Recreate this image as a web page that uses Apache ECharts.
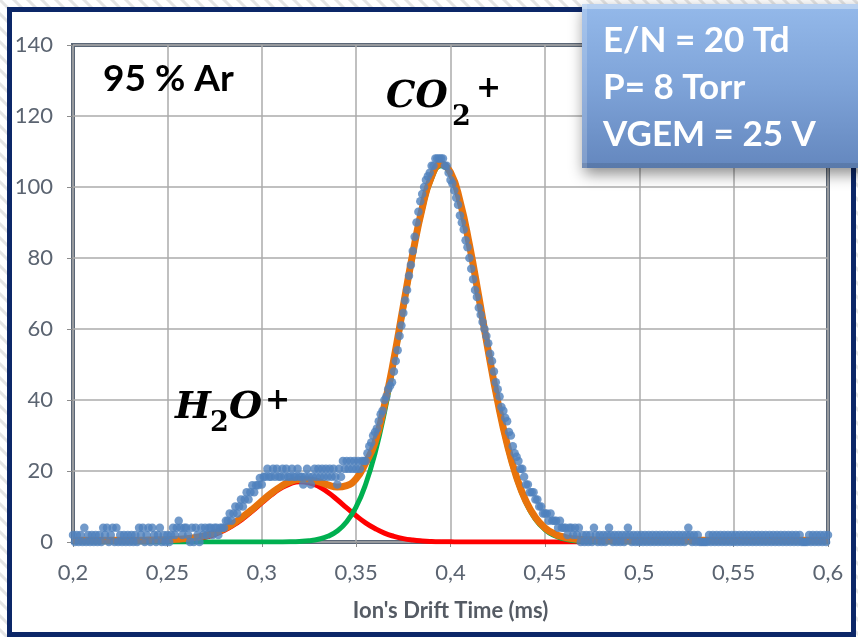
<!DOCTYPE html>
<html>
<head>
<meta charset="utf-8">
<script src="https://cdn.jsdelivr.net/npm/echarts@6/dist/echarts.min.js"></script>
<style>
  html, body { margin: 0; padding: 0; background: #ffffff; }
  #chart { width: 858px; height: 637px; }
</style>
</head>
<body>
<div id="chart"></div>
<script>
// Ion drift-time spectrum, 95 % Ar: measured signal and Gaussian fits.

// Measured signal, one sample every 0.001 ms from 0.200 ms
const timeStart = 0.200;
const timeStep = 0.001;
const signal = [
  2,0,2,0,2,0,4,0,2,0,
  2,0,2,0,2,0,4,2,4,0,
  2,4,0,4,0,2,0,2,0,2,
  0,2,0,2,0,4,2,4,0,2,
  4,0,4,2,0,2,4,0,2,0,
  2,0,2,4,2,4,6,4,2,4,
  4,2,0,4,0,4,2,0,4,2,
  4,2,4,4,2,4,4,2,4,4,
  4,6,6,8,6,8,10,8,10,12,
  10,12,14,12,14,16,14,16,16,18,
  16.2,18.4,18.4,20.6,18.4,18.4,20.6,18.4,20.6,18.4,
  18.4,20.6,18.4,20.6,18.4,18.4,20.6,18.4,18.4,20.6,
  18.4,18.4,16.2,18.4,20.6,18.4,16.2,18.4,20.6,18.4,
  20.6,18.4,20.6,18.4,20.6,18.4,20.6,18.4,20.6,18.4,
  16.2,20.6,18.4,22.8,20.6,22.8,20.6,22.8,20.6,22.8,
  20.6,22.8,20.6,22.8,22.8,22.8,25,27,28,30,
  31,32,34,36,37,40,41,43,44,45,
  48,51,54,58,61,64.5,68,71,75,78,
  82,86,90,93,96,98,100,102,103,104,
  106,106,108,108,108,108,108,106,106,104,
  102,101,99,97,95,92,90,88,85,83,
  80,77,74,71,69,66,64,62,60,58,
  56,53,51,48,45,43,41,38,37,35,
  34,31,30,27,25,24,22.8,20.6,20.6,18.4,
  16.2,16.2,14,14,14,12,12,10,10,8,
  8,8,6,8,6,6,6,4,6,4,
  4,4,2,4,4,2,4,2,4,0,
  2,0,2,0,2,0,4,2,0,2,
  0,2,0,2,4,2,0,2,0,2,
  0,2,0,2,4,2,0,2,0,2,
  0,2,0,2,0,2,0,2,0,2,
  0,2,0,2,0,2,0,2,0,2,
  0,2,0,2,0,2,4,2,0,2,
  0,2,0,0,0,0,0,2,0,2,
  0,2,0,2,0,2,0,2,0,2,
  0,2,0,2,0,2,0,2,0,2,
  0,2,0,2,0,2,0,2,0,2,
  0,2,0,2,0,2,0,2,0,2,
  0,2,0,2,0,2,0,0,0,0,
  2,0,2,0,2,0,2,0,2,0,
  2
];

// Fitted curves, one point every 0.005 ms from 0.200 ms
const fitStart = 0.200;
const fitStep = 0.005;
const fitH2O = [
  0,0,0,0,0,0,0,0,0.03,0.06,
  0.12,0.23,0.43,0.77,1.3,2.1,3.23,4.73,6.58,8.72,
  11.0,13.2,15.1,16.4,17.0,16.7,15.7,14.0,11.9,9.6,
  7.4,5.4,3.8,2.5,1.6,0.95,0.55,0.3,0.15,0.07,
  0.04,0,0,0,0,0,0,0,0,0,
  0,0,0,0,0,0,0,0,0,0,
  0,0,0,0,0,0,0,0,0,0,
  0,0,0,0,0,0,0,0,0,0,
  0
];
const fitCO2 = [
  0,0,0,0,0,0,0,0,0,0,
  0,0,0,0,0,0,0,0,0,0,
  0,0.01,0.02,0.06,0.16,0.36,0.78,1.6,3.1,5.7,
  9.9,16.2,25.0,36.5,50.4,65.5,80.5,93.4,102.4,106,
  103.6,95.6,83.3,68.6,53.3,39.1,27.1,17.8,11.0,6.4,
  3.5,1.8,0.9,0.42,0.18,0.07,0,0,0,0,
  0,0,0,0,0,0,0,0,0,0,
  0,0,0,0,0,0,0,0,0,0,
  0
];
const fitTotal = [
  0.5,0.5,0.5,0.5,0.5,0.5,0.5,0.5,0.55,0.6,
  0.65,0.75,0.95,1.3,1.8,2.6,3.7,5.2,7.1,9.2,
  11.5,13.7,15.6,17.0,17.6,17.5,17.0,16.1,15.5,15.9,
  17.8,22.2,28.0,38.5,51.5,66.5,81.2,94,103,106.5,
  104.1,96.1,83.8,69.1,53.8,39.6,27.6,18.3,11.5,6.9,
  4.0,2.3,1.4,0.9,0.7,0.6,0.5,0.5,0.5,0.5,
  0.5,0.5,0.5,0.5,0.5,0.5,0.5,0.5,0.5,0.5,
  0.5,0.5,0.5,0.5,0.5,0.5,0.5,0.5,0.5,0.5,
  0.5
];

// Axis settings
const xMin = 0.2, xMax = 0.6, xInterval = 0.05;
const yMin = 0, yMax = 140, yInterval = 20;
const xTitle = "Ion's Drift Time (ms)";
const conditions = ['E/N = 20 Td', 'P= 8 Torr', 'VGEM = 25 V'];
const gasLabel = '95 % Ar';

function pairs(start, step, values) {
  return values.map((v, i) => [+(start + i * step).toFixed(4), v]);
}

// diagonal hatch used around the outer frame
const hatch = document.createElement('canvas');
hatch.width = 14; hatch.height = 14;
(function () {
  const c = hatch.getContext('2d');
  c.fillStyle = '#ffffff';
  c.fillRect(0, 0, 14, 14);
  c.strokeStyle = '#e4e4e4';
  c.lineWidth = 3;
  c.beginPath();
  c.moveTo(-2, -2); c.lineTo(16, 16);
  c.moveTo(-16, -2); c.lineTo(2, 16);
  c.moveTo(12, -2); c.lineTo(30, 16);
  c.stroke();
})();

const tickFont = 'Lato, "Open Sans", sans-serif';
const tickColor = '#5b6471';

const chart = echarts.init(document.getElementById('chart'), null, { renderer: 'canvas' });

chart.setOption({
  animation: false,
  backgroundColor: '#ffffff',
  grid: {
    left: 73, right: 30, top: 45, bottom: 95,
    show: true,
    z: 1,
    borderColor: '#5b6777',
    borderWidth: 4,
    backgroundColor: 'transparent'
  },
  xAxis: {
    type: 'value',
    z: 1,
    min: xMin, max: xMax, interval: xInterval,
    name: xTitle,
    nameLocation: 'middle',
    nameGap: 58,
    nameTextStyle: { fontFamily: tickFont, fontWeight: 'bold', fontSize: 22, color: '#555b64' },
    axisLine: { show: false },
    axisTick: { show: true, length: 5, lineStyle: { color: '#8c8c8c' } },
    axisLabel: {
      margin: 20,
      fontFamily: tickFont, fontSize: 22, color: tickColor,
      formatter: v => String(+v.toFixed(2)).replace('.', ',')
    },
    splitLine: { show: true, lineStyle: { color: '#ababab', width: 1.5 } }
  },
  yAxis: {
    type: 'value',
    z: 1,
    min: yMin, max: yMax, interval: yInterval,
    axisLine: { show: false },
    axisTick: { show: true, length: 6, lineStyle: { color: '#8c8c8c' } },
    axisLabel: { margin: 20, fontFamily: tickFont, fontSize: 22, color: tickColor },
    splitLine: { show: true, lineStyle: { color: '#ababab', width: 1.5 } }
  },
  series: [
    {
      name: 'H2O+ fit', type: 'line', z: 3, smooth: true, symbol: 'none',
      lineStyle: { color: '#ff0000', width: 5 },
      data: pairs(fitStart, fitStep, fitH2O)
    },
    {
      name: 'CO2+ fit', type: 'line', z: 4, smooth: true, symbol: 'none',
      lineStyle: { color: '#00b050', width: 5 },
      data: pairs(fitStart, fitStep, fitCO2)
    },
    {
      name: 'Total fit', type: 'line', z: 5, smooth: true, symbol: 'none',
      lineStyle: { color: '#e8730c', width: 7 },
      data: pairs(fitStart, fitStep, fitTotal)
    },
    {
      name: 'Signal', type: 'scatter', z: 6,
      symbol: 'circle', symbolSize: 8.5,
      itemStyle: { color: '#4f81bd' },
      data: pairs(timeStart, timeStep, signal)
    }
  ],
  graphic: [
    // hatched surround and navy frame
    { type: 'rect', z: -10, silent: true,
      shape: { x: 0, y: 0, width: 858, height: 637 },
      style: { fill: { image: hatch, repeat: 'repeat' } } },
    { type: 'rect', z: -9, silent: true,
      shape: { x: 9.5, y: 9.5, width: 844, height: 625 },
      style: { fill: '#ffffff', stroke: '#0c2768', lineWidth: 5 } },

    // gas mixture label
    { type: 'text', z: 50, left: 103, top: 61,
      style: { text: gasLabel, font: 'bold 37px Lato, sans-serif', fill: '#000000' } },

    // ion labels
    { type: 'text', z: 50, silent: true,
      style: { text: 'CO', x: 386, y: 97, verticalAlign: 'middle', align: 'left',
               font: 'italic bold 37px "DejaVu Serif", serif', fill: '#000000' } },
    { type: 'text', z: 50, silent: true,
      style: { text: '2', x: 452, y: 118, verticalAlign: 'middle', align: 'left',
               font: 'bold 27px "DejaVu Serif", serif', fill: '#000000' } },
    { type: 'text', z: 50, silent: true,
      style: { text: '+', x: 476, y: 89, verticalAlign: 'middle', align: 'left',
               font: 'bold 30px "DejaVu Serif", serif', fill: '#000000' } },

    { type: 'text', z: 50, silent: true,
      style: { text: 'H', x: 175, y: 408, verticalAlign: 'middle', align: 'left',
               font: 'italic bold 38px "DejaVu Serif", serif', fill: '#000000' } },
    { type: 'text', z: 50, silent: true,
      style: { text: '2', x: 210, y: 424, verticalAlign: 'middle', align: 'left',
               font: 'bold 27px "DejaVu Serif", serif', fill: '#000000' } },
    { type: 'text', z: 50, silent: true,
      style: { text: 'O', x: 229, y: 408, verticalAlign: 'middle', align: 'left',
               font: 'italic bold 38px "DejaVu Serif", serif', fill: '#000000' } },
    { type: 'text', z: 50, silent: true,
      style: { text: '+', x: 265, y: 401, verticalAlign: 'middle', align: 'left',
               font: 'bold 30px "DejaVu Serif", serif', fill: '#000000' } },

    // conditions box
    { type: 'rect', z: 60, silent: true,
      shape: { x: 582, y: 4, width: 300, height: 164 },
      style: {
        fill: { type: 'linear', x: 0, y: 0, x2: 0, y2: 1,
                colorStops: [ { offset: 0, color: '#94b9ea' }, { offset: 0.5, color: '#7ea3d8' }, { offset: 1, color: '#6487be' } ] },
        shadowBlur: 14, shadowOffsetX: 2, shadowOffsetY: 6, shadowColor: 'rgba(0,0,0,0.45)'
      } },
    { type: 'rect', z: 61, silent: true,
      shape: { x: 582, y: 4, width: 300, height: 5 },
      style: { fill: 'rgba(255,255,255,0.35)' } },
    { type: 'rect', z: 61, silent: true,
      shape: { x: 582, y: 4, width: 5, height: 164 },
      style: { fill: 'rgba(255,255,255,0.18)' } },
    { type: 'rect', z: 61, silent: true,
      shape: { x: 582, y: 163, width: 300, height: 5 },
      style: { fill: 'rgba(0,0,0,0.10)' } },
    { type: 'text', z: 62, silent: true,
      style: { text: conditions[0], x: 603, y: 41, verticalAlign: 'middle', align: 'left',
               font: 'bold 35px Lato, sans-serif', fill: '#ffffff' } },
    { type: 'text', z: 62, silent: true,
      style: { text: conditions[1], x: 603, y: 88, verticalAlign: 'middle', align: 'left',
               font: 'bold 35px Lato, sans-serif', fill: '#ffffff' } },
    { type: 'text', z: 62, silent: true,
      style: { text: conditions[2], x: 603, y: 135, verticalAlign: 'middle', align: 'left',
               font: 'bold 35px Lato, sans-serif', fill: '#ffffff' } }
  ]
});
</script>
</body>
</html>
